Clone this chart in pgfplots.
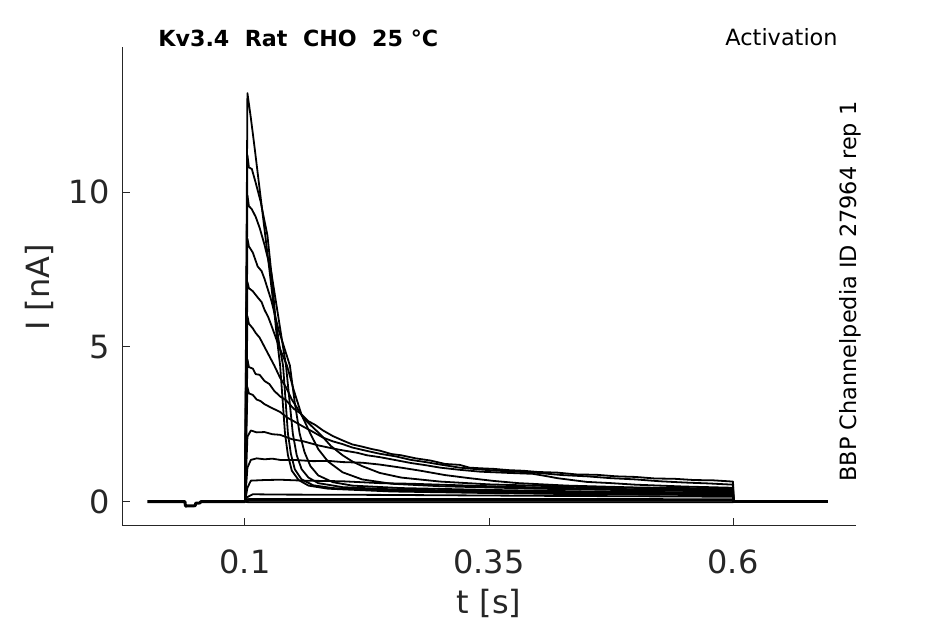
\documentclass[border=0pt]{standalone}
\usepackage{pgfplots}
\pgfplotsset{compat=1.18}
\usepackage{fontspec}
\setmainfont{DejaVu Sans}
\definecolor{axgray}{HTML}{262626}
\pgfplotsset{trace/.style={black, solid, no marks, line width=0.9pt, line join=round},
  base/.style={black, solid, no marks, line width=1.5pt, line join=round}}
\begin{document}
\begin{tikzpicture}[x=1pt,y=1pt]
\path[use as bounding box] (0,0) rectangle (472.5,312);
\begin{axis}[
 at={(61pt,49pt)}, anchor=south west,
 scale only axis, width=367pt, height=239.65pt,
 xmin=-0.026, xmax=0.726, ymin=-0.785, ymax=14.70,
 axis x line*=bottom, axis y line*=left,
 axis line style={axgray, line width=0.5pt, -},
 tick align=inside, major tick length=4pt,
 tick style={axgray, line width=0.5pt},
 xtick={0.1,0.35,0.6}, xticklabels={0.1,0.35,0.6},
 ytick={0,5,10}, yticklabels={0,5,10},
 ticklabel style={font=\fontsize{16}{19}\selectfont, text=axgray},
 /pgf/number format/assume math mode=true,
 xticklabel style={yshift=-8.4pt},
 yticklabel style={xshift=-2.7pt},
 xlabel={t [s]}, ylabel={I [nA]},
 label style={font=\fontsize{16}{19}\selectfont, text=axgray},
 xlabel style={at={(axis description cs:0.5,-0.1607)}, anchor=center},
 ylabel style={at={(axis description cs:-0.113,0.4976)}, anchor=center},
 clip=false,
]
% baseline before and after the step
\addplot[base] coordinates {(0,0) (0.0385,0) (0.039,-0.14) (0.049,-0.13) (0.0495,-0.05) (0.054,-0.04) (0.0545,0) (0.1,0)};
\addplot[base] coordinates {(0.6,0) (0.697,0)};
% fast inactivating traces
\addplot[trace] coordinates {(0.1,0)(0.1025,13.2)(0.106,12.4)(0.11,11.4)(0.115,10.1)(0.12,8.8)(0.125,7.5)(0.1305,6.0)(0.133,5.2)(0.136,4.4)(0.1385,3.3)(0.141,2.2)(0.144,1.5)(0.148,1.0)(0.155,0.7)(0.165,0.52)(0.185,0.42)(0.25,0.33)(0.35,0.28)(0.45,0.24)(0.6,0.21)(0.6005,0)};
\addplot[trace] coordinates {(0.1,0)(0.1025,11.2)(0.104,10.8)(0.107,10.75)(0.111,10.3)(0.116,9.7)(0.123,8.6)(0.127,7.4)(0.131,6.0)(0.135,5.1)(0.139,4.4)(0.1415,3.3)(0.144,2.2)(0.147,1.55)(0.151,1.05)(0.158,0.72)(0.17,0.53)(0.19,0.44)(0.25,0.36)(0.35,0.3)(0.45,0.27)(0.6,0.24)(0.6005,0)};
\addplot[trace] coordinates {(0.1,0)(0.1025,9.9)(0.104,9.55)(0.107,9.45)(0.111,9.2)(0.115,8.85)(0.120,8.3)(0.127,7.4)(0.132,6.4)(0.137,5.4)(0.142,4.4)(0.1455,3.3)(0.149,2.2)(0.153,1.5)(0.158,1.05)(0.165,0.78)(0.175,0.6)(0.2,0.47)(0.25,0.4)(0.35,0.34)(0.45,0.3)(0.6,0.27)(0.6005,0)};
\addplot[trace] coordinates {(0.1,0)(0.1025,8.5)(0.104,8.25)(0.108,8.05)(0.113,7.6)(0.117,7.45)(0.120,7.2)(0.124,6.8)(0.127,6.5)(0.134,5.6)(0.140,5.0)(0.146,4.4)(0.151,3.2)(0.156,2.2)(0.161,1.6)(0.167,1.15)(0.175,0.85)(0.19,0.63)(0.21,0.52)(0.26,0.44)(0.35,0.38)(0.45,0.33)(0.6,0.29)(0.6005,0)};
\addplot[trace] coordinates {(0.1,0)(0.1025,7.1)(0.104,6.9)(0.108,6.8)(0.113,6.6)(0.117,6.45)(0.120,6.2)(0.124,5.95)(0.127,5.7)(0.131,5.35)(0.135,5.0)(0.139,4.7)(0.143,4.4)(0.150,3.6)(0.158,2.8)(0.167,2.2)(0.175,1.7)(0.185,1.3)(0.2,0.95)(0.22,0.72)(0.25,0.58)(0.3,0.5)(0.4,0.42)(0.5,0.37)(0.6,0.33)(0.6005,0)};
\addplot[trace] coordinates {(0.1,0)(0.1025,6.0)(0.104,5.75)(0.108,5.6)(0.111,5.45)(0.115,5.3)(0.12,5.0)(0.125,4.7)(0.13,4.4)(0.136,4.0)(0.142,3.7)(0.148,3.3)(0.154,3.0)(0.16,2.7)(0.168,2.45)(0.178,2.15)(0.188,1.8)(0.2,1.5)(0.21,1.3)(0.22,1.15)(0.238,0.93)(0.26,0.78)(0.3,0.65)(0.35,0.56)(0.45,0.47)(0.6,0.4)(0.6005,0)};
% slowly inactivating traces
\addplot[trace] coordinates {(0.1,0)(0.1025,4.6)(0.104,4.35)(0.108,4.3)(0.111,4.12)(0.115,4.1)(0.12,3.9)(0.125,3.8)(0.13,3.58)(0.136,3.4)(0.142,3.28)(0.15,3.0)(0.157,2.85)(0.165,2.6)(0.172,2.48)(0.18,2.3)(0.19,2.12)(0.2,1.98)(0.21,1.85)(0.22,1.78)(0.23,1.7)(0.238,1.65)(0.25,1.54)(0.26,1.5)(0.275,1.4)(0.29,1.33)(0.305,1.22)(0.32,1.19)(0.33,1.1)(0.341,1.08)(0.355,1.06)(0.37,1.02)(0.385,1.0)(0.4,0.96)(0.42,0.94)(0.44,0.88)(0.46,0.87)(0.48,0.82)(0.5,0.8)(0.52,0.75)(0.54,0.74)(0.56,0.7)(0.58,0.69)(0.6,0.65)(0.6005,0)};
\addplot[trace] coordinates {(0.1,0)(0.1025,3.7)(0.104,3.5)(0.108,3.45)(0.112,3.3)(0.116,3.25)(0.12,3.15)(0.128,3.02)(0.136,2.9)(0.143,2.72)(0.15,2.6)(0.16,2.42)(0.17,2.25)(0.18,2.07)(0.19,1.95)(0.2,1.86)(0.21,1.75)(0.225,1.64)(0.238,1.55)(0.255,1.46)(0.27,1.35)(0.285,1.28)(0.3,1.2)(0.32,1.1)(0.341,1.04)(0.355,1.01)(0.37,0.98)(0.385,0.96)(0.4,0.93)(0.425,0.86)(0.45,0.82)(0.475,0.76)(0.5,0.72)(0.525,0.66)(0.55,0.62)(0.575,0.59)(0.6,0.55)(0.6005,0)};
\addplot[trace] coordinates {(0.1,0)(0.1025,2.1)(0.106,2.3)(0.112,2.24)(0.12,2.25)(0.128,2.18)(0.136,2.16)(0.148,2.02)(0.16,1.95)(0.175,1.82)(0.19,1.72)(0.2,1.66)(0.215,1.58)(0.225,1.5)(0.238,1.44)(0.255,1.34)(0.27,1.25)(0.285,1.18)(0.3,1.1)(0.32,1.03)(0.341,0.97)(0.37,0.93)(0.395,0.9)(0.41,0.82)(0.42,0.76)(0.435,0.7)(0.45,0.64)(0.475,0.6)(0.5,0.55)(0.525,0.52)(0.55,0.49)(0.575,0.47)(0.6,0.45)(0.6005,0)};
\addplot[trace] coordinates {(0.1,0)(0.1025,1.1)(0.106,1.35)(0.112,1.4)(0.12,1.37)(0.128,1.39)(0.136,1.35)(0.15,1.35)(0.17,1.31)(0.185,1.32)(0.2,1.28)(0.22,1.26)(0.238,1.2)(0.26,1.1)(0.28,1.0)(0.305,0.86)(0.33,0.76)(0.355,0.67)(0.38,0.6)(0.405,0.56)(0.43,0.52)(0.465,0.49)(0.5,0.46)(0.55,0.44)(0.6,0.42)(0.6005,0)};
\addplot[trace] coordinates {(0.1,0)(0.1025,0.45)(0.106,0.68)(0.12,0.7)(0.136,0.71)(0.16,0.68)(0.2,0.66)(0.238,0.6)(0.27,0.58)(0.3,0.55)(0.35,0.5)(0.4,0.46)(0.45,0.43)(0.5,0.4)(0.55,0.38)(0.6,0.36)(0.6005,0)};
\addplot[trace] coordinates {(0.1,0)(0.1025,0.15)(0.108,0.24)(0.136,0.23)(0.238,0.22)(0.4,0.19)(0.6,0.16)(0.6005,0)};
\addplot[trace] coordinates {(0.1,0)(0.104,0.09)(0.3,0.09)(0.6,0.08)(0.6005,0)};
\addplot[trace] coordinates {(0.1,0)(0.104,0.03)(0.6,0.03)(0.6005,0)};
\addplot[trace] coordinates {(0.1,0)(0.104,-0.02)(0.6,-0.02)(0.6005,0)};
\end{axis}
\node[inner sep=0pt, anchor=base west, font=\bfseries\fontsize{11.1}{13}\selectfont] at (79,288.7) {Kv3.4\ \ Rat\ \ CHO\ \ 25 °C};
\node[inner sep=0pt, anchor=base east, font=\fontsize{11.2}{13}\selectfont] at (419,289) {Activation};
\node[inner sep=0pt, anchor=base, rotate=90, font=\fontsize{11.2}{13}\selectfont] at (428.3,166.25) {BBP Channelpedia ID 27964 rep 1};
\end{tikzpicture}
\end{document}
